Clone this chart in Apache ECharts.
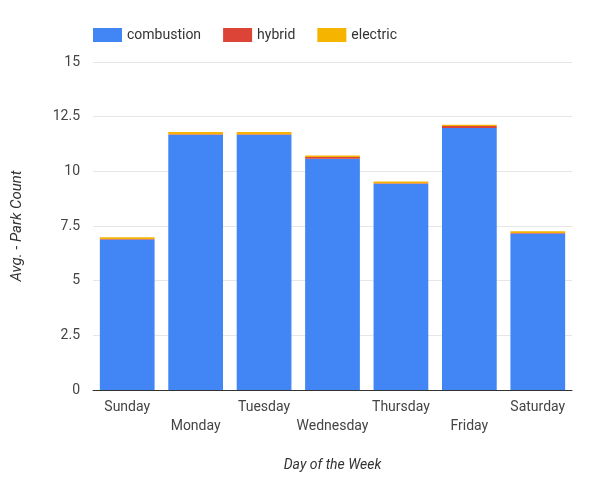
<!DOCTYPE html>
<html>
<head>
<meta charset="utf-8">
<script src="https://cdn.jsdelivr.net/npm/echarts@6/dist/echarts.min.js"></script>
<style>
  html, body { margin: 0; padding: 0; background: #fff; }
  #chart { width: 603px; height: 477px; }
</style>
</head>
<body>
<div id="chart"></div>
<script>
var days = ['Sunday', 'Monday', 'Tuesday', 'Wednesday', 'Thursday', 'Friday', 'Saturday'];
var combustion = [6.88, 11.67, 11.67, 10.58, 9.43, 11.98, 7.16];
var hybrid = [0.03, 0.03, 0.03, 0.08, 0.03, 0.09, 0.02];
var electric = [0.08, 0.1, 0.1, 0.06, 0.07, 0.06, 0.08];

var chart = echarts.init(document.getElementById('chart'));
var font = 'Roboto';
function bar(name, data, color) {
  return {
    name: name, type: 'bar', stack: 'total', data: data,
    barCategoryGap: '20%',
    itemStyle: { color: color }
  };
}
chart.setOption({
  animation: false,
  textStyle: { fontFamily: font },
  legend: {
    left: 88, top: 23,
    itemWidth: 29, itemHeight: 14, itemGap: 22,
    icon: 'rect',
    textStyle: { fontSize: 14, color: '#333', fontFamily: font }
  },
  grid: { left: 93, right: 31, top: 62, bottom: 85 },
  xAxis: {
    type: 'category', data: days,
    name: 'Day of the Week', nameLocation: 'middle', nameGap: 68,
    nameTextStyle: { fontStyle: 'italic', fontSize: 14, color: '#333' },
    axisTick: { show: false },
    axisLine: { lineStyle: { color: '#333' } },
    axisLabel: {
      interval: 0, color: '#444', fontSize: 14, lineHeight: 19, margin: 8,
      formatter: function (v, i) { return i % 2 ? '\n' + v : v; }
    }
  },
  yAxis: {
    type: 'value', min: 0, max: 15, interval: 2.5,
    name: 'Avg. - Park Count', nameLocation: 'middle', nameGap: 68,
    nameTextStyle: { fontStyle: 'italic', fontSize: 15, color: '#333' },
    axisLine: { show: false }, axisTick: { show: false },
    axisLabel: { color: '#444', fontSize: 14, margin: 13 },
    splitLine: { lineStyle: { color: '#e6e6e6' } }
  },
  series: [
    bar('combustion', combustion, '#4285F4'),
    bar('hybrid', hybrid, '#DB4437'),
    bar('electric', electric, '#F4B400')
  ]
});
</script>
</body>
</html>
